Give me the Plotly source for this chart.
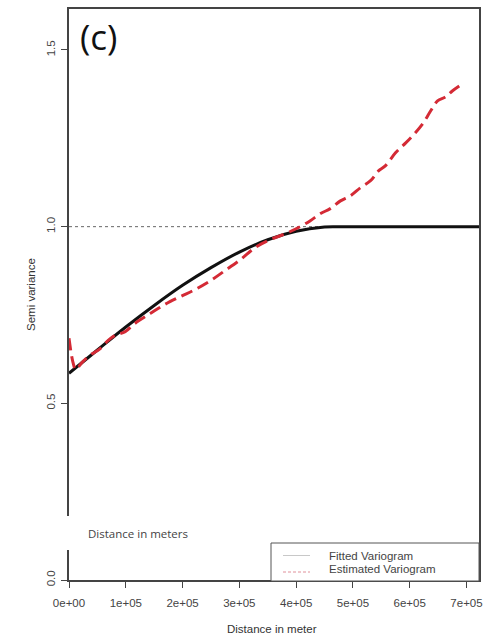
import plotly.graph_objects as go

# ---------------- data ----------------
# Fitted variogram
fit_x = [0, 0.5e5, 1e5, 1.5e5, 2e5, 2.5e5, 3e5, 3.5e5, 4e5, 4.5e5, 4.7e5, 5e5, 6e5, 7.22e5]
fit_y = [0.585, 0.651, 0.716, 0.777, 0.834, 0.884, 0.928, 0.963, 0.987, 0.999, 1.0, 1.0, 1.0, 1.0]

# Estimated variogram
est_x = [0, 0.07e5, 0.12e5, 0.23e5, 0.37e5, 0.55e5, 0.69e5, 0.81e5, 0.99e5, 1.16e5,
         1.43e5, 1.69e5, 1.96e5, 2.22e5, 2.49e5, 2.75e5, 3.02e5, 3.28e5, 3.54e5, 3.81e5,
         4.07e5, 4.25e5, 4.43e5, 4.60e5, 4.78e5, 4.96e5, 5.13e5, 5.31e5, 5.45e5, 5.57e5,
         5.75e5, 5.93e5, 6.10e5, 6.24e5, 6.37e5, 6.49e5, 6.63e5, 6.75e5, 6.90e5]
est_y = [0.684, 0.616, 0.596, 0.616, 0.636, 0.655, 0.678, 0.692, 0.703, 0.726,
         0.754, 0.780, 0.802, 0.822, 0.847, 0.876, 0.907, 0.941, 0.963, 0.980,
         1.000, 1.017, 1.037, 1.051, 1.073, 1.088, 1.110, 1.130, 1.158, 1.172,
         1.209, 1.237, 1.266, 1.294, 1.328, 1.356, 1.367, 1.384, 1.401]

sill = 1.0
x_ticks = [0, 1e5, 2e5, 3e5, 4e5, 5e5, 6e5, 7e5]
x_tick_labels = ["0e+00", "1e+05", "2e+05", "3e+05", "4e+05", "5e+05", "6e+05", "7e+05"]
y_ticks = [0.0, 0.5, 1.0, 1.5]
y_tick_labels = ["0.0", "0.5", "1.0", "1.5"]
x_range = [0, 7.22e5]
y_range = [0, 1.616]

W, H = 486, 637
ML, MR, MT, MB = 69, 7, 9, 57

fig = go.Figure()

# sill reference line
fig.add_trace(go.Scatter(x=x_range, y=[sill, sill], mode="lines",
                         line=dict(color="#666666", width=1, dash="3px,3px"),
                         showlegend=False, hoverinfo="skip"))
# fitted
fig.add_trace(go.Scatter(x=fit_x, y=fit_y, mode="lines", line_shape="spline",
                         line=dict(color="#111111", width=3), showlegend=False))
# estimated
fig.add_trace(go.Scatter(x=est_x, y=est_y, mode="lines", line_shape="spline",
                         line=dict(color="#d42a35", width=3, dash="12px,6px"),
                         showlegend=False))

axis_font = dict(family="Liberation Sans, Arial, sans-serif", size=11.5, color="#444444")

fig.update_xaxes(range=x_range, tickvals=x_ticks, ticktext=x_tick_labels,
                 showgrid=False, zeroline=False, showline=True, mirror=True,
                 linecolor="#444444", linewidth=1.5, ticks="outside", ticklen=6,
                 tickcolor="#444444", tickfont=axis_font, automargin=False,
                 ticklabelstandoff=5)
fig.update_yaxes(range=y_range, tickvals=y_ticks, ticktext=y_tick_labels,
                 showgrid=False, zeroline=False, showline=True, mirror=True,
                 linecolor="#444444", linewidth=1.5, ticks="outside", ticklen=6,
                 tickcolor="#444444", tickfont=axis_font, tickangle=-90, automargin=False,
                 ticklabelstandoff=2)

def px(x):
    return (x - ML) / (W - ML - MR)

def py(y):
    return 1 - (y - MT) / (H - MT - MB)

shapes = [
    # white patch covering axis
    dict(type="rect", xref="paper", yref="paper", x0=px(67), x1=px(200), y0=py(550), y1=py(516),
         fillcolor="white", line=dict(width=0), layer="above"),
    # legend box
    dict(type="rect", xref="paper", yref="paper", x0=px(271), x1=px(479), y0=py(581), y1=py(543),
         fillcolor="white", line=dict(color="#555555", width=1), layer="above"),
    dict(type="line", xref="paper", yref="paper", x0=px(283), x1=px(310), y0=py(555.5), y1=py(555.5),
         line=dict(color="#c8c8c8", width=1), layer="above"),
    dict(type="line", xref="paper", yref="paper", x0=px(283), x1=px(310), y0=py(572), y1=py(572),
         line=dict(color="#e0909a", width=1, dash="3px,2px"), layer="above"),
]

annotations = [
    dict(text="(c)", xref="paper", yref="paper", x=px(78), y=py(37), xanchor="left", yanchor="middle",
         showarrow=False, font=dict(family="Open Sans, sans-serif", size=35, color="#111111")),
    dict(text="Distance in meters", xref="paper", yref="paper", x=px(86), y=py(533),
         xanchor="left", yanchor="middle", showarrow=False,
         font=dict(family="Open Sans, sans-serif", size=11.5, color="#444444")),
    dict(text="Fitted Variogram", xref="paper", yref="paper", x=px(327), y=py(555.5),
         xanchor="left", yanchor="middle", showarrow=False,
         font=dict(family="Liberation Sans, Arial, sans-serif", size=11.5, color="#444444")),
    dict(text="Estimated Variogram", xref="paper", yref="paper", x=px(327), y=py(569),
         xanchor="left", yanchor="middle", showarrow=False,
         font=dict(family="Liberation Sans, Arial, sans-serif", size=11.5, color="#444444")),
    dict(text="Distance in meter", xref="paper", yref="paper", x=px(272), y=py(629),
         xanchor="center", yanchor="middle", showarrow=False,
         font=dict(family="Liberation Sans, Arial, sans-serif", size=11.5, color="#333333")),
    dict(text="Semi variance", xref="paper", yref="paper", x=px(31), y=py(295),
         xanchor="center", yanchor="middle", showarrow=False, textangle=-90,
         font=dict(family="Liberation Sans, Arial, sans-serif", size=11.5, color="#333333")),
]

fig.update_layout(width=W, height=H, margin=dict(l=ML, r=MR, t=MT, b=MB),
                  plot_bgcolor="white", paper_bgcolor="white",
                  shapes=shapes, annotations=annotations, showlegend=False)

fig.write_html("out.html", config={"displayModeBar": False},
               post_script="document.body.style.margin='0';document.body.style.overflow='hidden';")
